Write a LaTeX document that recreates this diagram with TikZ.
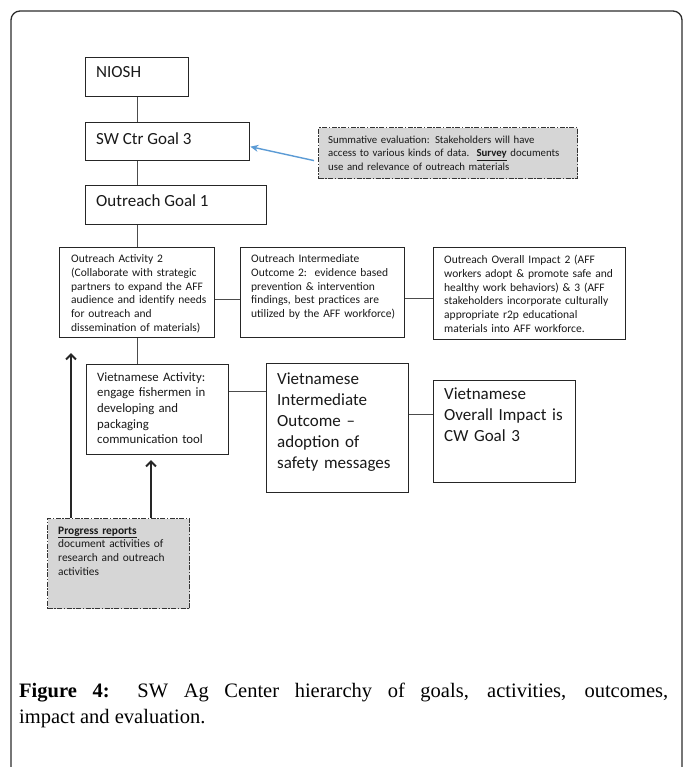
\documentclass[tikz,border=0pt]{standalone}
\usepackage{fontspec}
\setmainfont{Carlito}
\newfontfamily\captionfont{Liberation Serif}
\usepackage{tikz}
\usetikzlibrary{calc}
\usetikzlibrary{arrows.meta}
\definecolor{evalgray}{RGB}{214,214,214}
\definecolor{arrowblue}{RGB}{91,155,213}
\definecolor{framegray}{RGB}{45,45,45}
\tikzset{
	boxstyle/.style={rectangle,draw=black!85,line width=1.3pt,fill=white,anchor=north west,inner sep=0},
	evalstyle/.style={rectangle,draw=black!80,line width=1.2pt,fill=evalgray,anchor=north west,inner sep=0,dash pattern=on 5pt off 1.5pt on 1.5pt off 1.5pt},
	textstyle/.style={anchor=base west,align=left,inner sep=0,text=black!90},
	bigfont/.style={font=\fontsize{17}{21}\selectfont},
	smallfont/.style={font=\fontsize{11.5}{13.8}\selectfont},
	linkstyle/.style={draw=black!70,line width=1.3pt},
	evalarrowstyle/.style={draw=arrowblue,line width=1.4pt,-{Stealth[length=8pt,width=7pt]}},
	uparrowstyle/.style={draw=black!85,line width=2pt,-{Straight Barb[length=5pt,width=10pt]}}
}
\begin{document}
\begin{tikzpicture}[x=1pt,y=-1pt]
	\path[use as bounding box,fill=white] (0,0) rectangle (683,767);
	\draw[framegray,line width=1.3pt,rounded corners=9pt] (11,800) rectangle (682,11);
	% top of the hierarchy
	\node[boxstyle,minimum width=103,minimum height=39] (niosh) at (85,57) {};
	\node[textstyle,bigfont] (nioshtext) at (96,78) {NIOSH};
	\node[boxstyle,minimum width=164,minimum height=38] (sw) at (85,122) {};
	\node[textstyle,bigfont] (swtext) at (96,144.5) {SW Ctr Goal 3};
	\node[boxstyle,minimum width=181,minimum height=39] (goal) at (85,185) {};
	\node[textstyle,bigfont] (goaltext) at (96,207) {Outreach Goal 1};
	\node[evalstyle,minimum width=259,minimum height=51] (summ) at (318,127) {};
	\node[textstyle,text width=248,font=\fontsize{10.8}{13.5}\selectfont] (summtext) at (328,143.5)
		{Summative evaluation: Stakeholders will have\\access to various kinds of data.\ \ \underline{\textbf{Survey}} documents\\use and relevance of outreach materials};
	\draw[linkstyle] (niosh.south) -- (niosh.south |- sw.north);
	\draw[linkstyle] (niosh.south |- sw.south) -- (niosh.south |- goal.north);
	\draw[evalarrowstyle] ([xshift=-4pt,yshift=-7.5pt]summ.west) -- ([yshift=-5pt]sw.east);
	% outreach row
	\node[boxstyle,minimum width=155,minimum height=90] (act2) at (59,247) {};
	\node[textstyle,smallfont,text width=150] (act2text) at (71,262.5)
		{Outreach Activity 2\\(Collaborate with strategic\\partners to expand the AFF\\audience and identify needs\\for outreach and\\dissemination of materials)};
	\node[boxstyle,minimum width=164,minimum height=90] (inter) at (240,247) {};
	\node[textstyle,smallfont,text width=160] (intertext) at (251,262.5)
		{Outreach Intermediate\\Outcome 2:\ \ evidence based\\prevention \& intervention\\findings, best practices are\\utilized by the AFF workforce)};
	\node[boxstyle,minimum width=192,minimum height=92] (overall) at (433,247) {};
	\node[textstyle,smallfont,text width=185] (overalltext) at (444,263.5)
		{Outreach Overall Impact 2 (AFF\\workers adopt \& promote safe and\\healthy work behaviors) \& 3 (AFF\\stakeholders incorporate culturally\\appropriate r2p educational\\materials into AFF workforce.};
	\draw[linkstyle] (niosh.south |- goal.south) -- (act2.north);
	\draw[linkstyle] ([yshift=-7pt]act2.east) -- ([yshift=-7pt]act2.east -| inter.west);
	\draw[linkstyle] ([yshift=-6pt]inter.east) -- ([yshift=-6pt]inter.east -| overall.west);
	% vietnamese row
	\node[boxstyle,minimum width=142,minimum height=90] (vact) at (86,364) {};
	\node[textstyle,text width=135,font=\fontsize{12.8}{15.7}\selectfont] (vacttext) at (97,381)
		{Vietnamese Activity:\\engage fishermen in\\developing and\\packaging\\communication tool};
	\node[boxstyle,minimum width=142,minimum height=129] (vint) at (266,363) {};
	\node[textstyle,bigfont,text width=135] (vinttext) at (277,384.5)
		{Vietnamese\\Intermediate\\Outcome --\\adoption of\\safety messages};
	\node[boxstyle,minimum width=142,minimum height=102] (voverall) at (433,380) {};
	\node[textstyle,bigfont,text width=135] (voveralltext) at (444,399.5)
		{Vietnamese\\Overall Impact is\\CW Goal 3};
	\draw[linkstyle] (act2.south) -- (act2.south |- vact.north);
	\draw[linkstyle] ([yshift=18pt]vact.east) -- ([yshift=18pt]vact.east -| vint.west);
	\draw[linkstyle] ([yshift=13.5pt]vint.east) -- ([yshift=13.5pt]vint.east -| voverall.west);
	% progress reports
	\node[evalstyle,minimum width=142,minimum height=90] (prog) at (47,518) {};
	\node[textstyle,text width=130,font=\fontsize{11.4}{13.7}\selectfont] (progtext) at (58,534)
		{\underline{\textbf{Progress reports}}\\document activities of\\research and outreach\\activities};
	\coordinate (tipa) at (71,353);
	\coordinate (tipb) at (151,460);
	\draw[uparrowstyle] (prog.north -| tipa) -- (tipa);
	\draw[uparrowstyle] (prog.north -| tipb) -- (tipb);
	% caption
	\node[anchor=base west,text width=649,align=justify,inner sep=0,font=\captionfont\fontsize{20.5}{26}\selectfont] (caption) at (19,697)
		{\textbf{Figure 4:} SW Ag Center hierarchy of goals, activities, outcomes,\linebreak impact and evaluation.};
\end{tikzpicture}
\end{document}
